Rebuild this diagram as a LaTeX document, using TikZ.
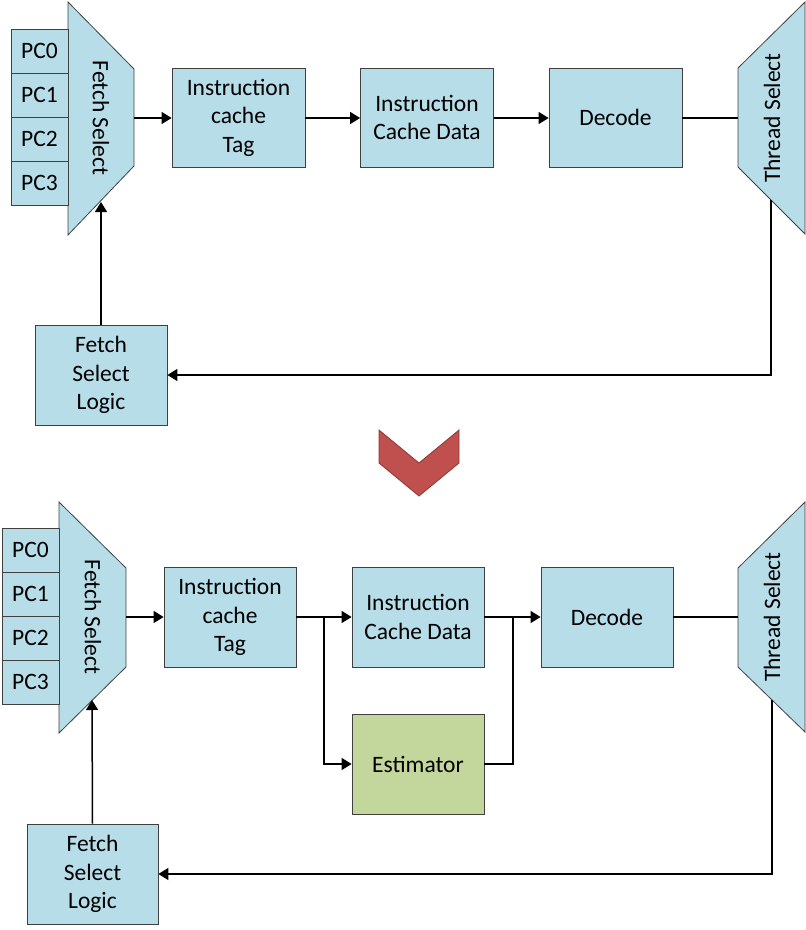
\documentclass[tikz,border=0pt]{standalone}
\usepackage{fontspec}
\setmainfont{Carlito}
\usetikzlibrary{arrows.meta}
\definecolor{boxblue}{HTML}{B7DDE8}
\definecolor{estgreen}{HTML}{C3D69B}
\definecolor{chevred}{HTML}{C0504D}
\definecolor{chevdark}{HTML}{8C3836}
\definecolor{edge}{HTML}{404040}
\begin{document}
\begin{tikzpicture}[x=1pt,y=-1pt,
  lbl/.style={font=\fontsize{23.5}{28.5}\selectfont},
  blk/.style={draw=edge,line width=0.8pt,fill=boxblue,inner sep=0pt,align=center,lbl,
              minimum width=133pt,minimum height=99pt},
  pcbox/.style={draw=edge,line width=0.8pt,fill=boxblue,inner sep=0pt,lbl,
              minimum width=57pt,minimum height=44pt},
  trap/.style={draw=edge,line width=0.8pt,fill=boxblue},
  wire/.style={line width=1.5pt,black},
  arr/.style={wire,-{Triangle[length=10pt,width=12pt]}}
]
\useasboundingbox (0,0) rectangle (806,930);

% ================= TOP =================
% Fetch select trapezoid
\coordinate (fsA1) at (68,2);
\coordinate (fsB1) at (134,69);
\coordinate (fsC1) at (134,166);
\coordinate (fsD1) at (68,235);
\draw[trap] (fsA1) -- (fsB1) -- (fsC1) -- (fsD1) -- cycle;
\node[lbl,rotate=-90] (fs1) at (101,118) {Fetch Select};
\coordinate (fs1out) at (134,118);
\coordinate (fs1in) at (101,202);

\node[pcbox] (pc01) at (39.5,51) {PC0};
\node[pcbox] (pc11) at (39.5,95) {PC1};
\node[pcbox] (pc21) at (39.5,139) {PC2};
\node[pcbox] (pc31) at (39.5,183) {PC3};

\node[blk] (tag1) at (238.5,117.5) {Instruction\\cache\\Tag};
\node[blk] (dat1) at (427,117.5) {Instruction\\Cache Data};
\node[blk] (dec1) at (615.5,117.5) {Decode};

% Thread select trapezoid
\coordinate (tsA1) at (738,68);
\coordinate (tsB1) at (805,2);
\coordinate (tsC1) at (805,234);
\coordinate (tsD1) at (738,167);
\draw[trap] (tsA1) -- (tsB1) -- (tsC1) -- (tsD1) -- cycle;
\node[lbl,rotate=90] (ts1) at (772,118) {Thread Select};
\coordinate (ts1in) at (738,118);
\coordinate (ts1out) at (771,200);

\node[blk,minimum width=132pt,minimum height=100pt,align=center] (fsl1) at (101,375) {Fetch\\Select\\Logic};

\draw[arr] (fs1out) -- (tag1.west |- fs1out);
\draw[arr] (tag1.east |- fs1out) -- (dat1.west |- fs1out);
\draw[arr] (dat1.east |- fs1out) -- (dec1.west |- fs1out);
\draw[wire] (dec1.east |- fs1out) -- (ts1in);
\draw[arr] (ts1out) |- (fsl1.east);
\draw[arr] (fsl1.north) -- (fs1in);

% ================= CHEVRON =================
\draw[fill=chevred,draw=chevdark,line width=0.8pt] (379,430) -- (419,463) -- (459,430) -- (459,463) -- (419,496) -- (379,463) -- cycle;

% ================= BOTTOM =================
\coordinate (fsA2) at (59,502);
\coordinate (fsB2) at (126,568);
\coordinate (fsC2) at (126,667);
\coordinate (fsD2) at (59,733);
\draw[trap] (fsA2) -- (fsB2) -- (fsC2) -- (fsD2) -- cycle;
\node[lbl,rotate=-90] (fs2) at (93,617) {Fetch Select};
\coordinate (fs2out) at (126,617);
\coordinate (fs2in) at (92,700);

\node[pcbox] (pc02) at (30.5,550) {PC0};
\node[pcbox] (pc12) at (30.5,594) {PC1};
\node[pcbox] (pc22) at (30.5,638) {PC2};
\node[pcbox] (pc32) at (30.5,682) {PC3};

\node[blk,minimum width=132pt,minimum height=100pt] (tag2) at (230,617) {Instruction\\cache\\Tag};
\node[blk,minimum width=132pt,minimum height=100pt] (dat2) at (418,617) {Instruction\\Cache Data};
\node[blk,minimum width=132pt,minimum height=100pt,fill=estgreen] (est2) at (418,764) {Estimator};
\node[blk,minimum width=132pt,minimum height=100pt] (dec2) at (607,617) {Decode};

\coordinate (tsA2) at (738,568);
\coordinate (tsB2) at (805,502);
\coordinate (tsC2) at (805,732);
\coordinate (tsD2) at (738,667);
\draw[trap] (tsA2) -- (tsB2) -- (tsC2) -- (tsD2) -- cycle;
\node[lbl,rotate=90] (ts2) at (772,617) {Thread Select};
\coordinate (ts2in) at (738,617);
\coordinate (ts2out) at (772,700);

\node[blk,minimum width=131pt,minimum height=100pt] (fsl2) at (92.5,874) {Fetch\\Select\\Logic};

\coordinate (br2) at (324,617);
\coordinate (jn2) at (513,617);

\draw[arr] (fs2out) -- (tag2.west |- fs2out);
\draw[arr] (tag2.east |- fs2out) -- (dat2.west |- fs2out);
\draw[arr] (br2) |- (est2.west);
\draw[wire] (est2.east) -| (jn2);
\draw[arr] (dat2.east |- fs2out) -- (dec2.west |- fs2out);
\draw[wire] (dec2.east |- fs2out) -- (ts2in);
\draw[arr] (ts2out) |- (fsl2.east);
\draw[arr] (fsl2.north) -- (fs2in);
\end{tikzpicture}
\end{document}
